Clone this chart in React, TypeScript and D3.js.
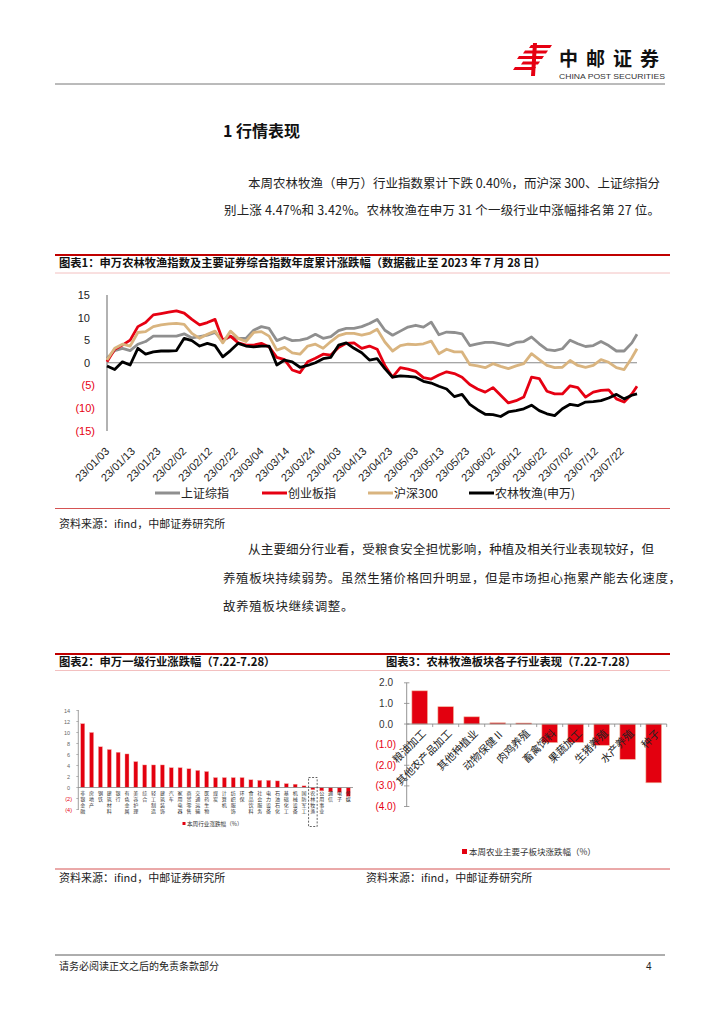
import React from "react";
import * as d3 from "d3";

// ---- 图表1 数据（年初至今累计涨跌幅，%） ----
const dates = [
  "2023-01-03", "2023-01-06", "2023-01-09", "2023-01-12", "2023-01-15", "2023-01-18", "2023-01-21",
  "2023-01-24", "2023-01-27", "2023-01-30", "2023-02-02", "2023-02-05", "2023-02-08", "2023-02-11",
  "2023-02-14", "2023-02-17", "2023-02-20", "2023-02-23", "2023-02-26", "2023-03-01", "2023-03-04",
  "2023-03-07", "2023-03-10", "2023-03-13", "2023-03-16", "2023-03-19", "2023-03-22", "2023-03-25",
  "2023-03-28", "2023-03-31", "2023-04-03", "2023-04-06", "2023-04-09", "2023-04-12", "2023-04-15",
  "2023-04-18", "2023-04-21", "2023-04-24", "2023-04-27", "2023-04-30", "2023-05-03", "2023-05-06",
  "2023-05-09", "2023-05-12", "2023-05-15", "2023-05-18", "2023-05-21", "2023-05-24", "2023-05-27",
  "2023-05-30", "2023-06-02", "2023-06-05", "2023-06-08", "2023-06-11", "2023-06-14", "2023-06-17",
  "2023-06-20", "2023-06-23", "2023-06-26", "2023-06-29", "2023-07-02", "2023-07-05", "2023-07-08",
  "2023-07-11", "2023-07-14", "2023-07-17", "2023-07-20", "2023-07-23", "2023-07-26", "2023-07-28",
];
const shComposite = [
  1.0, 2.7, 3.2, 2.7, 4.1, 4.7, 5.9, 5.9, 5.9, 5.9, 6.4, 5.5, 5.8, 6.1, 6.7, 4.9, 5.8, 5.4, 5.4, 7.2,
  8.0, 7.6, 4.9, 5.6, 4.9, 5.0, 5.4, 6.3, 5.4, 5.8, 7.1, 7.6, 7.6, 8.0, 8.7, 9.6,
  7.2, 6.1, 7.0, 7.9, 8.3, 7.9, 9.0, 6.2, 6.8, 6.7, 6.4, 3.8, 4.2, 4.5, 4.5, 4.2, 3.8, 4.5, 4.7, 5.7,
  4.2, 2.9, 2.7, 3.1, 5.0, 4.2, 3.6, 3.8, 4.7, 3.8, 2.6, 2.6, 4.4, 6.3,
];
const chinext = [
  0.2, 3.0, 3.9, 5.0, 8.0, 8.9, 10.6, 10.9, 11.2, 11.5, 11.0, 9.6, 8.4, 8.9, 9.6, 5.0, 5.9, 4.4, 3.9,
  3.9, 4.3, 3.5, 1.2, 0.7, -1.6, -2.2, 0.2, 1.0, 1.9, 1.7, 3.4, 4.3, 4.4, 3.2, 3.7, 3.0,
  -0.6, -3.2, -1.1, -1.4, -1.9, -3.3, -3.6, -2.7, -2.0, -2.4, -3.2, -4.8, -5.8, -6.5, -5.5, -7.2, -8.9,
  -8.4, -7.6, -3.2, -3.5, -6.3, -6.9, -6.9, -5.1, -5.5, -7.6, -6.5, -6.1, -6.0, -8.0, -8.7, -6.9, -5.2,
];
const csi300 = [
  0.6, 3.2, 4.1, 3.7, 6.7, 6.9, 8.0, 8.4, 8.6, 8.7, 8.5, 6.5, 5.4, 6.3, 7.0, 4.4, 7.0, 5.4, 4.7, 6.7,
  6.9, 5.9, 2.8, 3.4, 2.2, 1.9, 3.7, 4.1, 3.2, 4.7, 6.0, 6.5, 6.5, 6.1, 6.5, 7.4,
  4.6, 2.6, 3.8, 4.1, 4.0, 4.2, 4.8, 2.0, 3.0, 2.4, 2.4, -0.4, -0.7, -1.1, -0.2, -0.8, -1.3, -0.7,
  -0.2, 2.0, 0.7, -0.6, -1.1, -1.0, 0.5, -0.6, -1.0, -0.6, 0.7, 0.1, -1.1, -1.5, 1.1, 3.1,
];
const swAgri = [
  -0.7, -1.5, 0.2, -0.5, 3.2, 1.9, 2.4, 2.6, 2.6, 2.7, 5.4, 4.9, 3.7, 4.3, 3.8, 1.3, 2.7, 4.3, 3.7,
  3.5, 3.7, 3.7, -0.5, 0.6, 0.2, -1.0, -0.6, 0.0, 0.9, 1.2, 3.9, 4.4, 3.2, 2.2, 0.6, 0.9,
  -1.3, -3.2, -2.9, -3.0, -3.2, -4.1, -4.5, -5.2, -5.8, -7.5, -7.0, -9.2, -10.4, -11.4, -11.5, -11.9,
  -10.9, -10.6, -10.2, -9.4, -10.6, -11.3, -11.7, -10.2, -9.2, -9.5, -8.7, -8.6, -8.4, -7.8, -7.0,
  -8.0, -7.2, -6.9,
];
const xTickLabels = [
  "23/01/03", "23/01/13", "23/01/23", "23/02/02", "23/02/12", "23/02/22", "23/03/04",
  "23/03/14", "23/03/24", "23/04/03", "23/04/13", "23/04/23", "23/05/03", "23/05/13",
  "23/05/23", "23/06/02", "23/06/12", "23/06/22", "23/07/02", "23/07/12", "23/07/22",
];
const yTicks1 = [15, 10, 5, 0, -5, -10, -15];
const seriesNames = ["上证综指", "创业板指", "沪深300", "农林牧渔(申万)"];
const seriesColors = ["#8f8f8f", "#e60012", "#d9b47f", "#000000"];

// ---- 图表2 数据：申万一级行业涨跌幅 (7.22-7.28) ----
const industries = [
  "非银金融", "房地产", "钢铁", "建筑材料", "银行", "有色金属", "美容护理", "综合", "轻工制造",
  "建筑装饰", "汽车", "家用电器", "商贸零售", "交通运输", "医药生物", "煤炭", "计算机", "纺织服饰",
  "环保", "食品饮料", "社会服务", "电力设备", "石油石化", "基础化工", "机械设备", "国防军工",
  "农林牧渔", "公用事业", "通信", "电子", "传媒",
];
const industryChg = [
  11.6, 10.0, 7.4, 6.9, 6.4, 6.1, 4.7, 4.1, 4.1, 4.1, 3.6, 3.6, 3.4, 3.1, 2.9, 1.8, 1.8, 1.8, 1.8,
  1.4, 1.3, 1.3, 1.2, 0.7, 0.6, 0.3, -0.4, -0.6, -0.8, -0.9, -1.6,
];
const yTicks2 = [14, 12, 10, 8, 6, 4, 2, 0, -2, -4];

// ---- 图表3 数据：农林牧渔各子行业 (7.22-7.28) ----
const subIndustries = [
  "粮油加工", "其他农产品加工", "其他种植业", "动物保健Ⅱ", "肉鸡养殖", "畜禽饲料", "果蔬加工",
  "生猪养殖", "水产养殖", "种子",
];
const subChg = [1.61, 0.84, 0.35, 0.06, 0.05, -0.9, -0.89, -1.03, -1.71, -2.85];
const yTicks3 = [2, 1, 0, -1, -2, -3, -4];

const CJK = "'Noto Sans CJK SC', sans-serif";
const LAT = "'Liberation Sans', Arial, sans-serif";

const parse = d3.timeParse("%Y-%m-%d");
const parseTick = d3.timeParse("%y/%m/%d");

function Chart1() {
  const x = d3.scaleTime().domain([parse("2023-01-03")!, parse("2023-07-28")!]).range([107, 637]);
  const y = d3.scaleLinear().domain([-15, 15]).range([430.5, 295]);
  const all = [shComposite, chinext, csi300, swAgri];
  const line = d3
    .line<number>()
    .x((_, i) => x(parse(dates[i])!))
    .y((d) => y(d));
  return (
    <g>
      <line x1={107} x2={107} y1={295} y2={431} stroke="#999" strokeWidth={1.5} />
      <line x1={107} x2={637} y1={y(0)} y2={y(0)} stroke="#888" strokeWidth={1} />
      {yTicks1.map((t) => (
        <text
          key={t}
          x={t >= 0 ? 90 : 95}
          y={y(t) + 4}
          textAnchor="end"
          fontFamily={LAT}
          fontSize={11}
          fill={t >= 0 ? "#222" : "#e60012"}
        >
          {t >= 0 ? t : `(${-t})`}
        </text>
      ))}
      {xTickLabels.map((s) => {
        const px = x(parseTick(s)!);
        return (
          <text
            key={s}
            transform={`translate(${px + 3},${452}) rotate(-45)`}
            textAnchor="end"
            fontFamily={LAT}
            fontSize={11}
            fill="#222"
          >
            {s}
          </text>
        );
      })}
      {all.map((s, k) => (
        <path key={k} d={line(s)!} fill="none" stroke={seriesColors[k]} strokeWidth={2.8} strokeLinejoin="round" />
      ))}
      {seriesNames.map((n, k) => {
        const lx = [155, 262, 368, 469][k];
        return (
          <g key={n}>
            <line x1={lx} x2={lx + 25} y1={493} y2={493} stroke={seriesColors[k]} strokeWidth={3} />
            <text x={lx + 26} y={497.5} fontFamily={CJK} fontSize={12} fill="#222">
              {n}
            </text>
          </g>
        );
      })}
    </g>
  );
}

function Chart2() {
  const x = d3.scaleBand().domain(industries).range([78.3, 352.7]).paddingInner(0.55).paddingOuter(0.275);
  const y = d3.scaleLinear().domain([-4, 14]).range([809.5, 710.5]);
  const y0 = y(0);
  const agri = x("农林牧渔")!;
  return (
    <g>
      {industries.map((n, i) => {
        const v = industryChg[i];
        return (
          <rect
            key={n}
            x={x(n)}
            width={x.bandwidth()}
            y={Math.min(y(v), y0)}
            height={Math.abs(y(v) - y0)}
            fill="#e3000f"
            stroke="#f2a7a0"
            strokeWidth={0.4}
          />
        );
      })}
      <line x1={78.3} x2={78.3} y1={710} y2={810} stroke="#888" strokeWidth={0.8} />
      <line x1={78.3} x2={353} y1={y0} y2={y0} stroke="#888" strokeWidth={0.8} />
      {yTicks2.map((t) => (
        <g key={t}>
          <line x1={76.3} x2={78.3} y1={y(t)} y2={y(t)} stroke="#888" strokeWidth={0.6} />
          <text
            x={t >= 0 ? 70 : 72}
            y={y(t) + 2}
            textAnchor="end"
            fontFamily={LAT}
            fontSize={5.5}
            fill={t >= 0 ? "#666" : "#e60012"}
          >
            {t >= 0 ? t : `(${-t})`}
          </text>
        </g>
      ))}
      {industries.map((n) => (
        <text key={n} fontFamily={CJK} fontSize={5} fill="#333" textAnchor="middle">
          {n.split("").map((c, j) => (
            <tspan key={j} x={x(n)! + x.bandwidth() / 2} y={y0 + 7 + j * 6}>
              {c}
            </tspan>
          ))}
        </text>
      ))}
      <rect
        x={agri - 2.3}
        y={y0 - 10}
        width={x.bandwidth() + 4.6}
        height={49}
        fill="none"
        stroke="#222"
        strokeWidth={0.7}
        strokeDasharray="2,1.5"
      />
      <rect x={182.5} y={822} width={3} height={3} fill="#e3000f" />
      <text x={187} y={825.5} fontFamily={CJK} fontSize={5.6} fill="#333">
        本周行业涨跌幅（%）
      </text>
    </g>
  );
}

function Chart3() {
  const x = d3.scaleBand().domain(subIndustries).range([406.7, 666.7]).paddingInner(0.4).paddingOuter(0.2);
  const y = d3.scaleLinear().domain([-4, 2]).range([806.5, 682.8]);
  const y0 = y(0);
  const step = x.step();
  return (
    <g>
      {subIndustries.map((n, i) => {
        const v = subChg[i];
        return (
          <rect
            key={n}
            x={x(n)}
            width={x.bandwidth()}
            y={Math.min(y(v), y0)}
            height={Math.max(Math.abs(y(v) - y0), 0.8)}
            fill="#e3000f"
            stroke="#f0b49a"
            strokeWidth={0.6}
          />
        );
      })}
      <line x1={406.7} x2={406.7} y1={682.8} y2={806.5} stroke="#888" strokeWidth={0.9} />
      <line x1={406.7} x2={666.7} y1={y0} y2={y0} stroke="#888" strokeWidth={0.9} />
      {subIndustries.map((n, i) => (
        <line
          key={n}
          x1={406.7 + (i + 1) * step}
          x2={406.7 + (i + 1) * step}
          y1={y0}
          y2={y0 + 3}
          stroke="#888"
          strokeWidth={0.8}
        />
      ))}
      {yTicks3.map((t) => (
        <g key={t}>
          <line x1={404} x2={409.4} y1={y(t)} y2={y(t)} stroke="#888" strokeWidth={0.8} />
          <text
            x={t >= 0 ? 393 : 396}
            y={y(t) + 3.5}
            textAnchor="end"
            fontFamily={LAT}
            fontSize={10}
            fill={t >= 0 ? "#333" : "#e60012"}
          >
            {t >= 0 ? t.toFixed(1) : `(${(-t).toFixed(1)})`}
          </text>
        </g>
      ))}
      {subIndustries.map((n) => (
        <text
          key={n}
          transform={`translate(${x(n)! + x.bandwidth() / 2 + 7},${y0 + 10}) rotate(-45)`}
          textAnchor="end"
          fontFamily={CJK}
          fontSize={10.5}
          fill="#222"
        >
          {n}
        </text>
      ))}
      <rect x={462} y={849} width={5} height={5} fill="#e3000f" />
      <text x={469} y={855} fontFamily={CJK} fontSize={8.5} fill="#333">
        本周农业主要子板块涨跌幅（%）
      </text>
    </g>
  );
}

function Header() {
  const bars = [
    [529, 552, 45],
    [523, 548, 50.5],
    [517, 544, 56],
    [521, 540, 61.5],
    [513, 536, 67],
  ];
  return (
    <g>
      <g fill="#e60012">
        {bars.map(([a, b, yy], i) => (
          <polygon key={i} points={`${a + 2},${yy} ${b},${yy} ${b - 2},${yy + 3} ${a},${yy + 3}`} />
        ))}
        <polygon points="533,43 537,43 535,76 531,76" />
      </g>
      <text x={559} y={66} fontFamily={CJK} fontWeight={700} fontSize={19} letterSpacing={8} fill="#111">
        中邮证券
      </text>
      <text x={559} y={78.5} fontFamily={LAT} fontSize={7.6} textLength={106} lengthAdjust="spacingAndGlyphs" fill="#333">
        CHINA POST SECURITIES
      </text>
      <line x1={55} x2={665} y1={84} y2={84} stroke="#777" strokeWidth={1} />
    </g>
  );
}

export default function App() {
  const body = { fontFamily: CJK, fontSize: 12.5, fill: "#222" } as const;
  const src = "资料来源：ifind，中邮证券研究所";
  return (
    <svg
      width={724}
      height={1024}
      viewBox="0 0 724 1024"
      style={{ position: "absolute", left: 0, top: 0, background: "#fff" }}
    >
      <rect width={724} height={1024} fill="#fff" />
      <Header />

      <text x={223} y={137} fontFamily={CJK} fontWeight={700} fontSize={16} fill="#111">
        1 行情表现
      </text>
      <text x={248} y={188} {...body} textLength={412} lengthAdjust="spacing">
        本周农林牧渔（申万）行业指数累计下跌 0.40%，而沪深 300、上证综指分
      </text>
      <text x={224} y={215} {...body} textLength={436} lengthAdjust="spacing">
        别上涨 4.47%和 3.42%。农林牧渔在申万 31 个一级行业中涨幅排名第 27 位。
      </text>

      {/* 图表1 */}
      <line x1={55} x2={670} y1={255} y2={255} stroke="#c00000" strokeWidth={2} />
      <text x={59} y={267} fontFamily={CJK} fontWeight={700} fontSize={11.3} fill="#111">
        图表1：申万农林牧渔指数及主要证券综合指数年度累计涨跌幅（数据截止至 2023 年 7 月 28 日）
      </text>
      <line x1={55} x2={670} y1={273} y2={273} stroke="#f0b0b0" strokeWidth={0.8} />
      <Chart1 />
      <line x1={55} x2={670} y1={508.5} y2={508.5} stroke="#d04040" strokeWidth={0.9} />
      <text x={59} y={528} fontFamily={CJK} fontSize={11} fill="#222">
        {src}
      </text>

      <text x={248} y={554} {...body} textLength={406} lengthAdjust="spacing">
        从主要细分行业看，受粮食安全担忧影响，种植及相关行业表现较好，但
      </text>
      <text x={223} y={583} {...body} textLength={458} lengthAdjust="spacing">
        养殖板块持续弱势。虽然生猪价格回升明显，但是市场担心拖累产能去化速度，
      </text>
      <text x={223} y={611} {...body} letterSpacing={0.6}>
        故养殖板块继续调整。
      </text>

      {/* 图表2 / 图表3 */}
      <line x1={55} x2={670} y1={654} y2={654} stroke="#c00000" strokeWidth={2} />
      <text x={59} y={666} fontFamily={CJK} fontWeight={700} fontSize={11.3} fill="#111">
        图表2：申万一级行业涨跌幅（7.22-7.28）
      </text>
      <text x={386} y={666} fontFamily={CJK} fontWeight={700} fontSize={11.3} fill="#111">
        图表3：农林牧渔板块各子行业表现（7.22-7.28）
      </text>
      <line x1={55} x2={670} y1={670.5} y2={670.5} stroke="#f0b0b0" strokeWidth={0.8} />
      <Chart2 />
      <Chart3 />
      <line x1={55} x2={670} y1={869} y2={869} stroke="#d04040" strokeWidth={0.9} />
      <text x={59} y={882} fontFamily={CJK} fontSize={11} fill="#222">
        {src}
      </text>
      <text x={366} y={882} fontFamily={CJK} fontSize={11} fill="#222">
        {src}
      </text>

      {/* 页脚 */}
      <line x1={55} x2={665} y1={955} y2={955} stroke="#333" strokeWidth={0.8} />
      <text x={59} y={970} fontFamily={CJK} fontSize={10} fill="#222">
        请务必阅读正文之后的免责条款部分
      </text>
      <text x={646} y={970} fontFamily={LAT} fontSize={10} fill="#222">
        4
      </text>
    </svg>
  );
}
